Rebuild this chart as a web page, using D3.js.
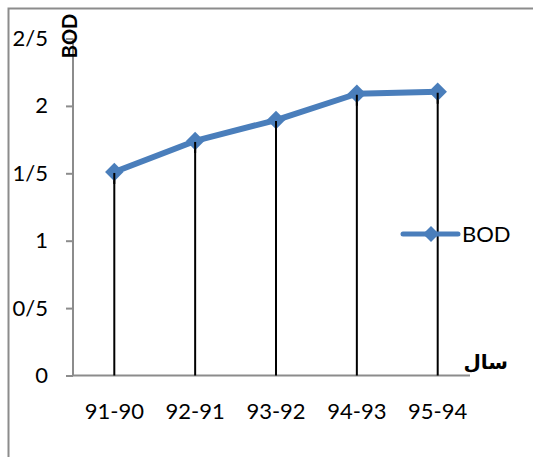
<!DOCTYPE html>
<html><head><meta charset="utf-8">
<script src="https://cdn.jsdelivr.net/npm/d3@7"></script>
<style>body{margin:0;background:#fff}svg{display:block}</style>
</head><body>
<svg id="c" width="533" height="457"></svg>
<script>
const categories = ["91-90","92-91","93-92","94-93","95-94"];
const bodValues = [1.51, 1.74, 1.895, 2.09, 2.105];
const yTicks = [0, 0.5, 1, 1.5, 2, 2.5];
const yTickLabels = ["0","0/5","1","1/5","2","2/5"];
const seriesName = "BOD";
const yTitle = "BOD";
const xTitle = "سال";

const svg = d3.select("#c");
const font = "Lato, 'Open Sans', sans-serif";
const blue = "#4a7ebb";

// outer frame
svg.append("path").attr("d","M8.5,460 V8.5 H540").attr("fill","none").attr("stroke","#8c8c8c").attr("stroke-width",2);

const y = d3.scaleLinear().domain([0,2.5]).range([375.5, 38.5]);
const x = d3.scalePoint().domain(categories).range([114.3, 437.7]);

// y axis
const yAxis = svg.append("g").attr("transform","translate(73,0)")
  .call(d3.axisLeft(y).tickValues(yTicks).tickSize(7).tickFormat((d,i)=>yTickLabels[i]));
yAxis.select(".domain").attr("stroke","#8c8c8c").attr("stroke-width",2).attr("d","M0,38.5V375.5");
yAxis.selectAll(".tick line").attr("stroke","#8c8c8c").attr("stroke-width",2);
yAxis.selectAll(".tick text").attr("x",-25).attr("font-family",font).attr("font-size",22).attr("fill","#000");

// x axis line
svg.append("line").attr("x1",73).attr("x2",470).attr("y1",y(0)).attr("y2",y(0))
  .attr("stroke","#8c8c8c").attr("stroke-width",2);

// x labels
svg.append("g").selectAll("text").data(categories).join("text")
  .attr("x",d=>x(d)).attr("y",419).attr("text-anchor","middle")
  .attr("font-family",font).attr("font-size",22).text(d=>d);

// drop lines
svg.append("g").selectAll("line").data(categories).join("line")
  .attr("x1",d=>x(d)).attr("y1",(d,i)=>y(bodValues[i]))
  .attr("x2",d=>x(d)).attr("y2",y(0))
  .attr("stroke","#000").attr("stroke-width",2);

// series line
const line = d3.line().x((d,i)=>x(categories[i])).y(d=>y(d));
svg.append("path").datum(bodValues).attr("d",line).attr("fill","none")
  .attr("stroke",blue).attr("stroke-width",6).attr("stroke-linejoin","round");
const diamond = d3.symbol().type(d3.symbolSquare).size(170);
svg.append("g").selectAll("path").data(bodValues).join("path")
  .attr("d",diamond).attr("fill",blue)
  .attr("transform",(d,i)=>`translate(${x(categories[i])},${y(d)}) rotate(45)`);

// drop lines over lower half of markers
svg.append("g").selectAll("line").data(categories).join("line")
  .attr("x1",d=>x(d)).attr("y1",(d,i)=>y(bodValues[i])+1)
  .attr("x2",d=>x(d)).attr("y2",(d,i)=>y(bodValues[i])+12)
  .attr("stroke","#000").attr("stroke-width",2);

// legend
const lg = svg.append("g").attr("transform","translate(403,234)");
lg.append("line").attr("x1",0).attr("x2",55).attr("y1",0).attr("y2",0)
  .attr("stroke",blue).attr("stroke-width",5).attr("stroke-linecap","round");
lg.append("path").attr("d",d3.symbol().type(d3.symbolSquare).size(130)).attr("fill",blue)
  .attr("transform","translate(28,0) rotate(45)");
lg.append("text").attr("x",59).attr("y",8).attr("font-family",font).attr("font-size",22).text(seriesName);

// titles
svg.append("text").attr("transform","translate(77,36) rotate(-90)").attr("text-anchor","middle")
  .attr("font-family",font).attr("font-weight","bold").attr("font-size",20).text(yTitle);
svg.append("text").attr("x",508).attr("y",369).attr("text-anchor","end")
  .attr("font-family","'DejaVu Sans', sans-serif").attr("font-weight","bold").attr("font-size",20).text(xTitle);
</script>
</body></html>
